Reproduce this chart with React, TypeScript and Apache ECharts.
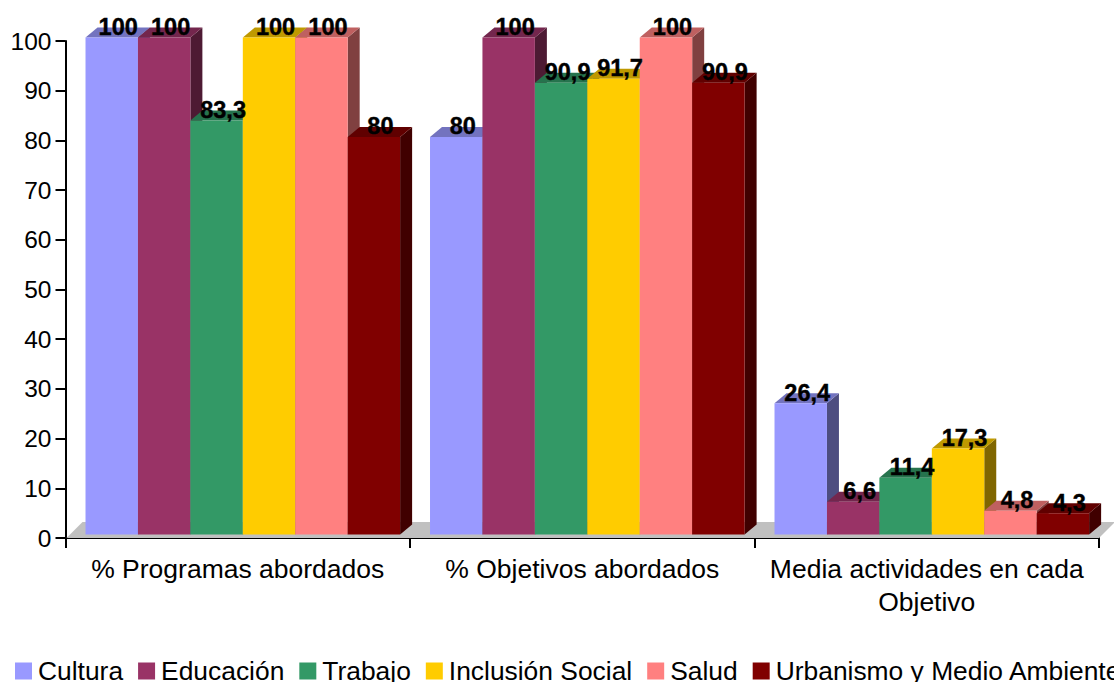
import React, { useEffect, useRef } from "react";
import * as echarts from "echarts";

const categories = ["% Programas abordados", "% Objetivos abordados", "Media actividades en cada\nObjetivo"];
const seriesNames = ["Cultura", "Educación", "Trabajo", "Inclusión Social", "Salud", "Urbanismo y Medio Ambiente"];
const cultura = [100, 80, 26.4];
const educacion = [100, 100, 6.6];
const trabajo = [83.3, 90.9, 11.4];
const inclusion = [100, 91.7, 17.3];
const salud = [100, 100, 4.8];
const urbanismo = [80, 90.9, 4.3];
const seriesValues = [cultura, educacion, trabajo, inclusion, salud, urbanismo];
const colors = ["#9999FF", "#993366", "#339966", "#FFCC00", "#FF8080", "#800000"];
const yTicks = { min: 0, max: 100, interval: 10 };

const FONT = "'Liberation Sans', Arial, sans-serif";
const DX = 12;
const DY = 10;
const FRONT_SHIFT = 3.5;

function shade(hex: string, f: number) {
  const n = parseInt(hex.slice(1), 16);
  const c = [(n >> 16) & 255, (n >> 8) & 255, n & 255].map((v) => Math.round(v * f));
  return `rgb(${c[0]},${c[1]},${c[2]})`;
}

function makeBarRender(idx: number) {
  return (params: any, api: any) => {
    const cat = api.value(0);
    const val = api.value(1);
    const band = api.size([1, 0])[0];
    const gap = band * 0.0581;
    const w = band * 0.1522;
    const center = api.coord([cat, 0]);
    const top = api.coord([cat, val]);
    const x0 = center[0] - band / 2 + gap + idx * w;
    const x1 = x0 + w;
    const y0 = center[1] - FRONT_SHIFT;
    const y1 = top[1] - FRONT_SHIFT;
    const c = colors[idx];
    const label = String(val).replace(".", ",");
    return {
      type: "group",
      children: [
        {
          type: "polygon",
          shape: { points: [[x1, y0], [x1 + DX, y0 - DY], [x1 + DX, y1 - DY], [x1, y1]] },
          style: { fill: shade(c, 0.5) },
        },
        {
          type: "polygon",
          shape: { points: [[x0, y1], [x0 + DX, y1 - DY], [x1 + DX, y1 - DY], [x1, y1]] },
          style: { fill: shade(c, 0.75) },
        },
        {
          type: "rect",
          shape: { x: x0, y: y1, width: w, height: y0 - y1 },
          style: { fill: c },
        },
        {
          type: "text",
          z2: 100,
          style: {
            x: (x0 + x1) / 2 + 6.5,
            y: y1 - 10.5,
            text: label,
            fill: "#000",
            stroke: "#000",
            lineWidth: 0.4,
            font: `bold 23.5px ${FONT}`,
            textAlign: "center",
            textVerticalAlign: "middle",
          },
        },
      ],
    };
  };
}

function renderFloor(params: any, api: any) {
  const cs = params.coordSys;
  const y = cs.y + cs.height;
  const l = cs.x;
  const r = cs.x + cs.width;
  return {
    type: "polygon",
    shape: { points: [[l + 1, y], [l + 17, y - 16], [r + 16, y - 16], [r, y]] },
    style: { fill: "#C0C0C0" },
  };
}

export default function App() {
  const ref = useRef<HTMLDivElement>(null);
  useEffect(() => {
    const chart = echarts.init(ref.current!, null, { renderer: "svg" });
    chart.setOption({
      animation: false,
      backgroundColor: "#fff",
      grid: { left: 65.5, top: 41, width: 1033.5, height: 497, containLabel: false },
      legend: {
        left: 15,
        top: 658,
        padding: 0,
        width: 1400,
        icon: "rect",
        itemWidth: 17,
        itemHeight: 17,
        itemGap: 15,
        selectedMode: false,
        data: seriesNames,
        textStyle: { fontFamily: FONT, fontSize: 26.4, color: "#000", padding: [0, 0, 0, 1] },
      },
      xAxis: {
        type: "category",
        data: categories,
        axisLine: { lineStyle: { color: "#000", width: 2 } },
        axisTick: { show: true, length: 10, lineStyle: { color: "#000", width: 2 } },
        axisLabel: { color: "#000", fontFamily: FONT, fontSize: 26.5, margin: 14, lineHeight: 33, interval: 0 },
      },
      yAxis: {
        type: "value",
        min: yTicks.min,
        max: yTicks.max,
        interval: yTicks.interval,
        splitLine: { show: false },
        axisLine: { show: true, lineStyle: { color: "#000", width: 2 } },
        axisTick: { show: true, length: 10, lineStyle: { color: "#000", width: 2 } },
        axisLabel: { color: "#000", fontFamily: FONT, fontSize: 24.5, margin: 14 },
      },
      series: [
        {
          type: "custom",
          name: "floor",
          z: 1,
          silent: true,
          clip: false,
          data: [[0, 0]],
          encode: { x: 0, y: 1 },
          renderItem: renderFloor,
        },
        ...seriesNames.map((name, i) => ({
          type: "custom",
          name,
          z: 2,
          clip: false,
          silent: true,
          itemStyle: { color: colors[i] },
          data: seriesValues[i].map((v, c) => [c, v]),
          encode: { x: 0, y: 1 },
          renderItem: makeBarRender(i),
        })),
      ],
    });
    return () => chart.dispose();
  }, []);
  return <div ref={ref} style={{ position: "fixed", left: 0, top: 0, width: 1114, height: 682, overflow: "hidden" }} />;
}
